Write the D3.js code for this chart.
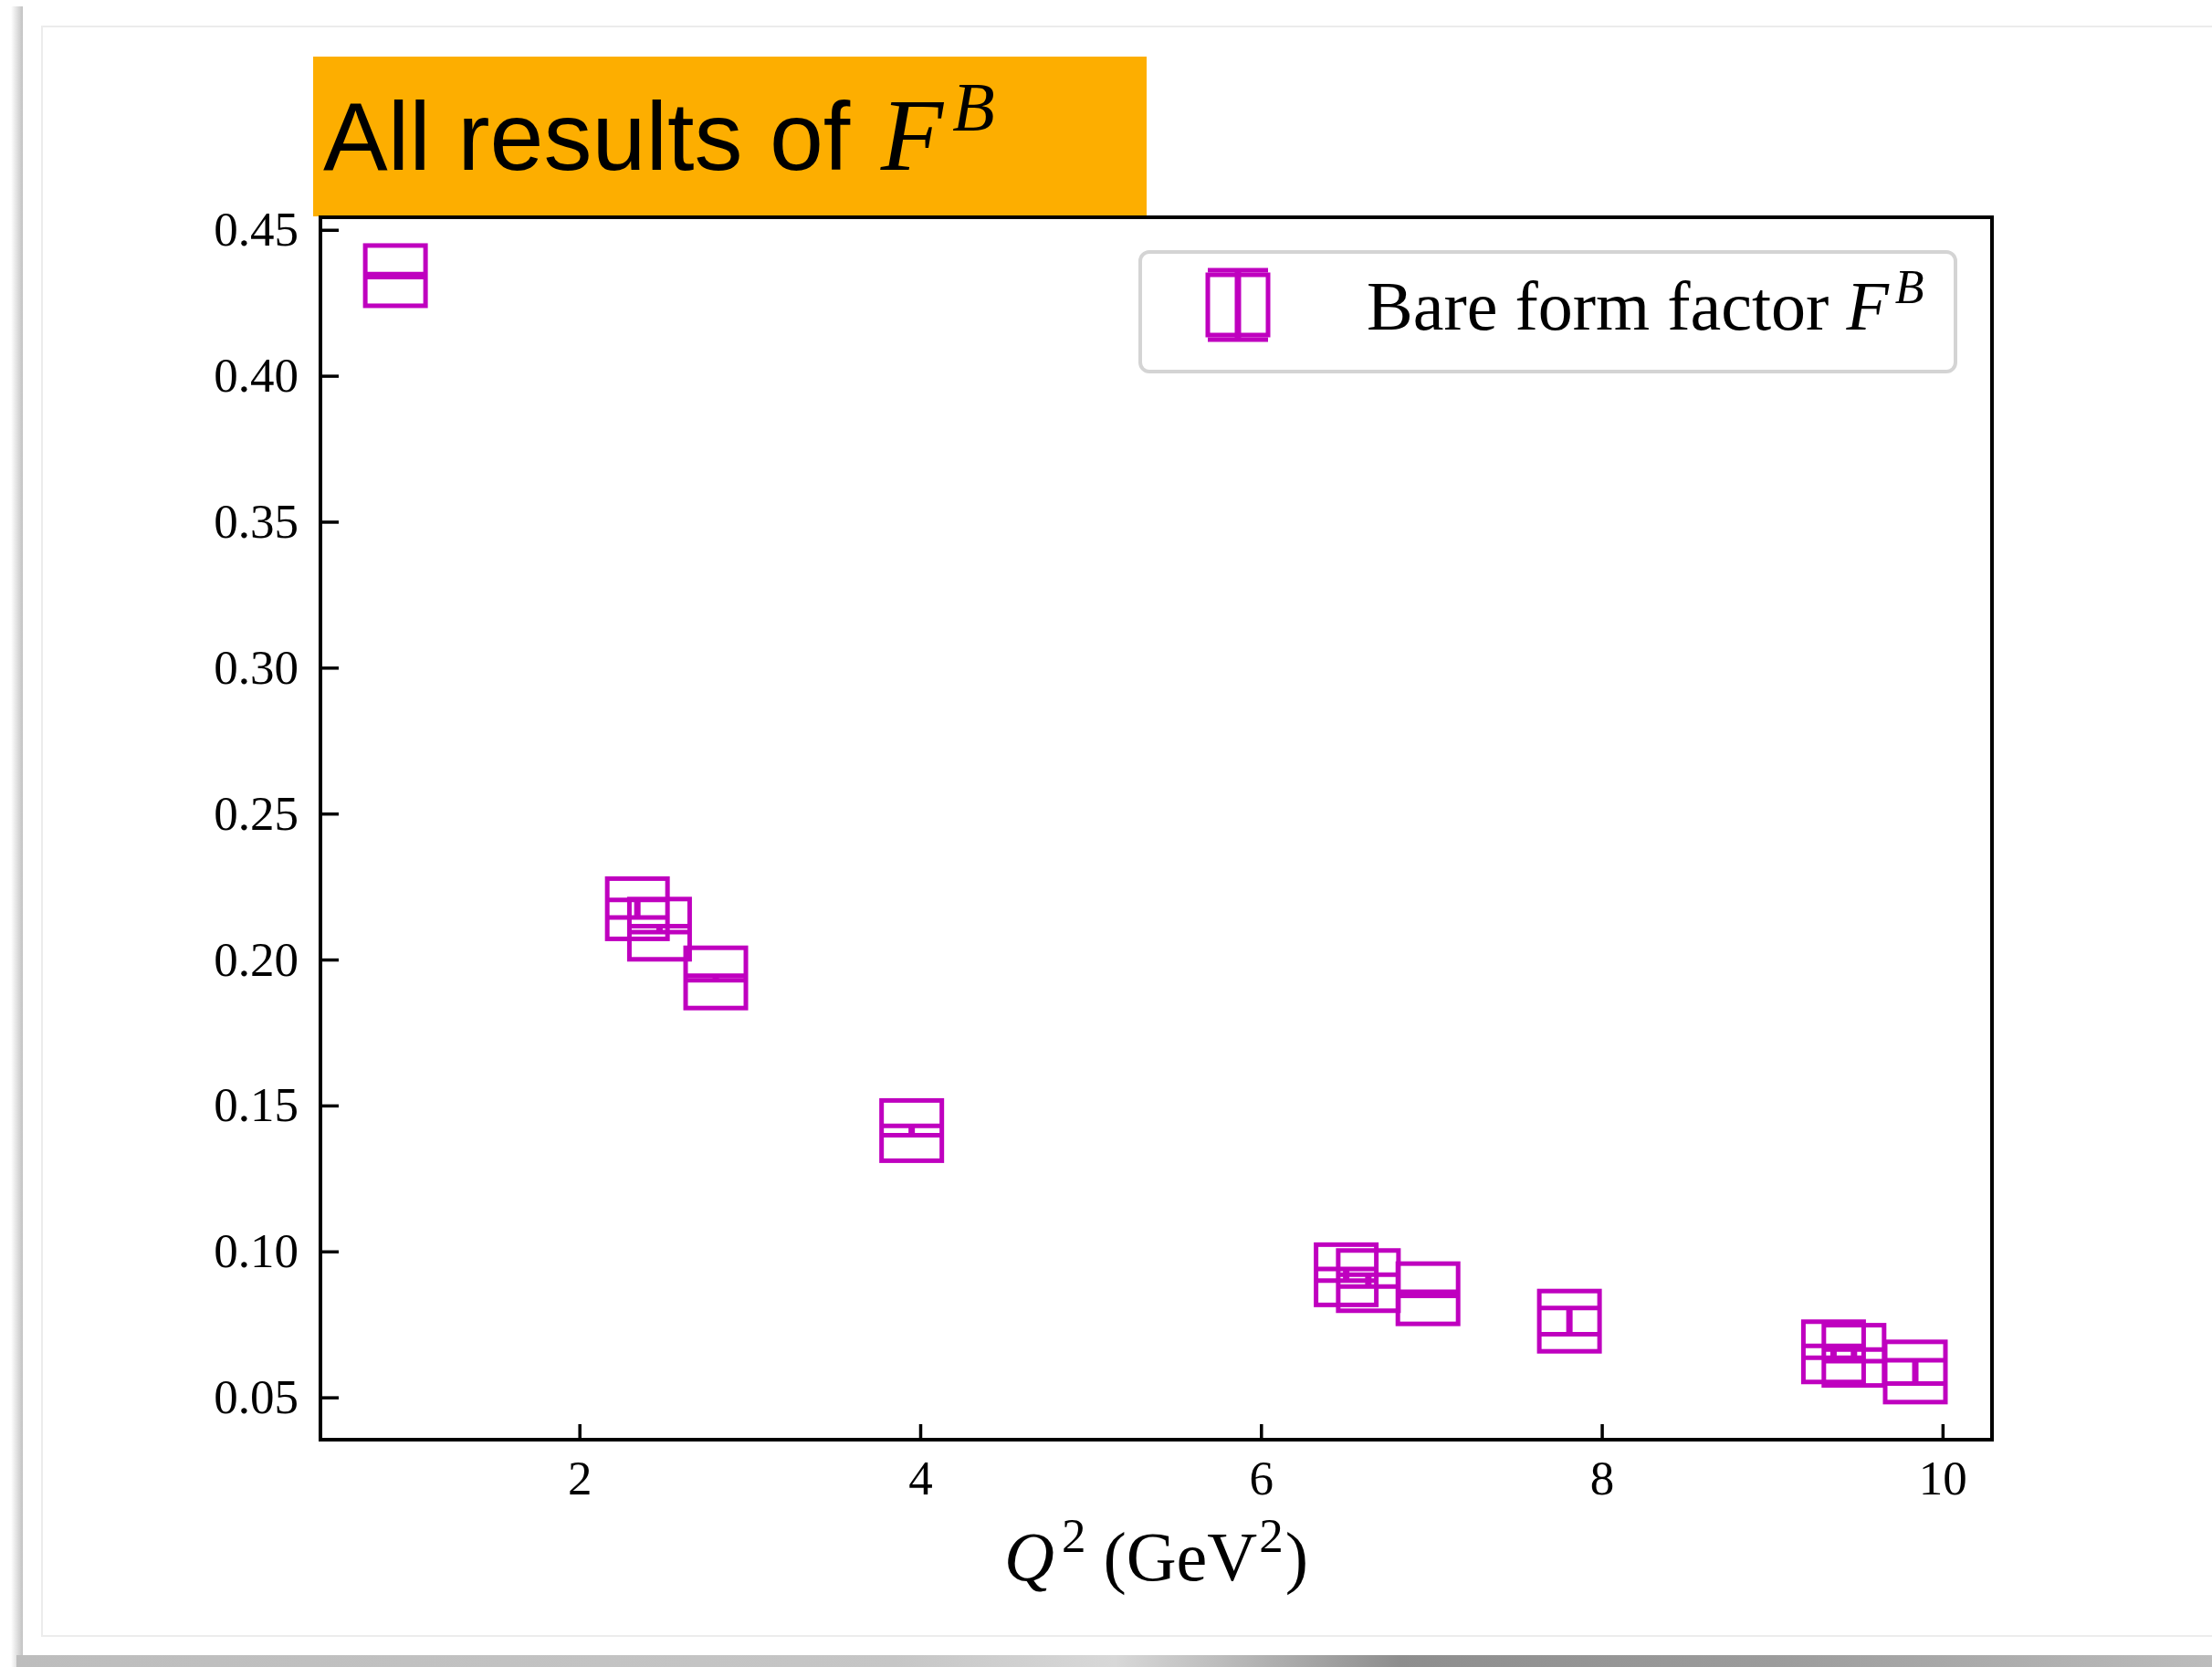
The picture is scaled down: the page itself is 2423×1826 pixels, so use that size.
<!DOCTYPE html>
<html>
<head>
<meta charset="utf-8">
<script src="https://cdn.jsdelivr.net/npm/d3@7"></script>
<style>
  body { margin: 0; background: #fff; }
  svg { display: block; }
</style>
</head>
<body>
<div id="chart"></div>
<script>
// data
var q2    = [0.92, 2.34, 2.47, 2.80, 3.95, 6.50, 6.63, 6.98, 7.81, 9.36, 9.48, 9.84];
var fb    = [0.4343, 0.2174, 0.2104, 0.1937, 0.1414, 0.0920, 0.0900, 0.0855, 0.0761, 0.0656, 0.0644, 0.0587];
var fbErr = [0.0005, 0.0030, 0.0010, 0.0008, 0.0016, 0.0020, 0.0020, 0.0007, 0.0045, 0.0020, 0.0020, 0.0040];
var xTicks = [2, 4, 6, 8, 10];
var yTicks = [0.05, 0.10, 0.15, 0.20, 0.25, 0.30, 0.35, 0.40, 0.45];

var width = 2423, height = 1826;
var plot = {left: 351, right: 2182, top: 238, bottom: 1577};
var magenta = "#bf00bf";
var serif = "'Liberation Serif', 'Times New Roman', serif";

var svg = d3.select("#chart").append("svg")
    .attr("width", width)
    .attr("height", height);

var defs = svg.append("defs");
var lg = defs.append("linearGradient").attr("id", "leftShadow")
    .attr("x1", 0).attr("x2", 1).attr("y1", 0).attr("y2", 0);
lg.append("stop").attr("offset", 0).attr("stop-color", "#fff");
lg.append("stop").attr("offset", 1).attr("stop-color", "#c2c2c2");
var bg = defs.append("linearGradient").attr("id", "bottomShadow")
    .attr("x1", 0).attr("x2", 1).attr("y1", 0).attr("y2", 0);
[[0, "#bdbdbd"], [0.4, "#c6c6c6"], [0.5, "#d8d8d8"], [0.63, "#8e8e8e"], [0.8, "#9c9c9c"], [1, "#bcbcbc"]]
  .forEach(function(s){ bg.append("stop").attr("offset", s[0]).attr("stop-color", s[1]); });

// slide card + shadow
svg.append("rect").attr("x", 12).attr("y", 7).attr("width", 13).attr("height", 1819).attr("fill", "url(#leftShadow)");
svg.append("rect").attr("x", 18).attr("y", 1813).attr("width", width - 18).attr("height", 13).attr("fill", "url(#bottomShadow)");
svg.append("rect").attr("x", 25).attr("y", 7).attr("width", width - 25).attr("height", 1806).attr("fill", "#fff");
svg.append("path")
    .attr("d", "M" + width + ",29 H46 V1792 H" + width)
    .attr("fill", "none").attr("stroke", "#ececec").attr("stroke-width", 2);

// title box
svg.append("rect").attr("x", 343).attr("y", 62).attr("width", 913).attr("height", 175).attr("fill", "#fdae00");
var title = svg.append("text")
    .attr("x", 354).attr("y", 186)
    .style("font-family", "'Liberation Sans', Arial, sans-serif")
    .style("font-size", "106px")
    .attr("fill", "#000");
title.append("tspan").text("All results of ");
title.append("tspan").style("font-family", serif).style("font-style", "italic").style("font-size", "112px")
    .attr("dx", 4).text("F");
title.append("tspan").style("font-family", serif).style("font-style", "italic").style("font-size", "76px")
    .attr("dx", 10).attr("dy", -43).text("B");

var x = d3.scaleLinear().domain([0.48, 10.29]).range([plot.left, plot.right]);
var y = d3.scaleLinear().domain([0.0355, 0.4543]).range([plot.bottom, plot.top]);

// axes, ticks pointing inward
var gx = svg.append("g")
    .attr("transform", "translate(0," + plot.bottom + ")")
    .call(d3.axisBottom(x).tickValues(xTicks).tickFormat(d3.format("d"))
          .tickSizeInner(-17).tickSizeOuter(0).tickPadding(22));
var gy = svg.append("g")
    .attr("transform", "translate(" + plot.left + ",0)")
    .call(d3.axisLeft(y).tickValues(yTicks).tickFormat(d3.format(".2f"))
          .tickSizeInner(-20).tickSizeOuter(0).tickPadding(24));
[gx, gy].forEach(function(g){
  g.select(".domain").remove();
  g.selectAll(".tick line").attr("stroke", "#000").attr("stroke-width", 3.5);
  g.selectAll(".tick text").attr("fill", "#000")
    .style("font-family", serif).style("font-size", "53px");
});

svg.append("rect")
    .attr("x", plot.left).attr("y", plot.top)
    .attr("width", plot.right - plot.left).attr("height", plot.bottom - plot.top)
    .attr("fill", "none").attr("stroke", "#000").attr("stroke-width", 4);

// errorbar marker: hollow square, caps as wide as the square, vertical bar
var half = 33;
function drawMarker(g, cx, yTop, yBot, cy) {
  g.append("line").attr("x1", cx).attr("x2", cx).attr("y1", yTop).attr("y2", yBot)
    .attr("stroke", magenta).attr("stroke-width", 7);
  [yTop, yBot].forEach(function(cyy){
    g.append("line").attr("x1", cx - half).attr("x2", cx + half).attr("y1", cyy).attr("y2", cyy)
      .attr("stroke", magenta).attr("stroke-width", 5);
  });
  g.append("rect").attr("x", cx - half).attr("y", cy - half)
    .attr("width", 2 * half).attr("height", 2 * half)
    .attr("fill", "none").attr("stroke", magenta).attr("stroke-width", 5);
}

var marks = svg.append("g");
q2.forEach(function(q, i){
  drawMarker(marks, x(q), y(fb[i] + fbErr[i]), y(fb[i] - fbErr[i]), y(fb[i]));
});

// legend
var leg = svg.append("g");
leg.append("rect").attr("x", 1249).attr("y", 276).attr("width", 893).attr("height", 131)
    .attr("rx", 10).attr("fill", "#fff").attr("stroke", "#d4d4d4").attr("stroke-width", 4);
drawMarker(leg, 1356, 296, 372, 334);
var lt = leg.append("text").attr("x", 1497).attr("y", 361)
    .style("font-family", serif).style("font-size", "76px").attr("fill", "#000");
lt.append("tspan").text("Bare form factor ");
lt.append("tspan").style("font-style", "italic").text("F");
lt.append("tspan").style("font-style", "italic").style("font-size", "52px")
    .attr("dx", 7).attr("dy", -29).text("B");

// x label
var xl = svg.append("text")
    .attr("x", (plot.left + plot.right) / 2).attr("y", 1731)
    .attr("text-anchor", "middle")
    .style("font-family", serif).style("font-size", "76px").attr("fill", "#000");
xl.append("tspan").style("font-style", "italic").text("Q");
xl.append("tspan").style("font-size", "53px").attr("dx", 8).attr("dy", -31).text("2");
xl.append("tspan").attr("dy", 31).text(" (GeV");
xl.append("tspan").style("font-size", "53px").attr("dx", 2).attr("dy", -31).text("2");
xl.append("tspan").attr("dx", 2).attr("dy", 31).text(")");
</script>
</body>
</html>
